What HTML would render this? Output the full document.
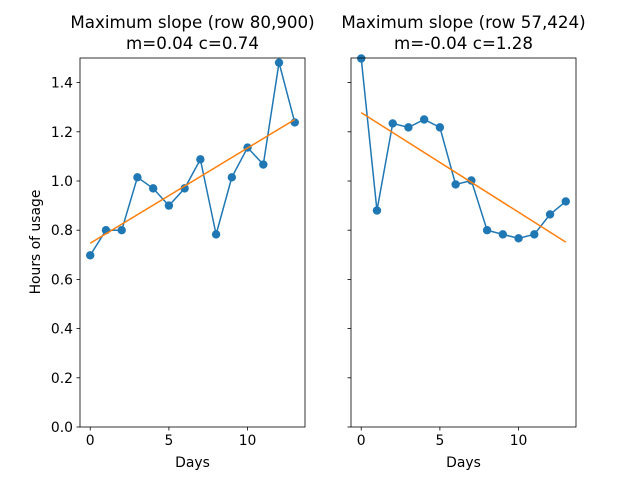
<!DOCTYPE html>
<html><head><meta charset="utf-8"><style>
body{margin:0;background:#fff}
svg text{font-family:"DejaVu Sans","Liberation Sans",sans-serif;fill:#000}
</style></head><body>
<svg id="chart" width="640" height="480" xmlns="http://www.w3.org/2000/svg"></svg>
<script>
const days=[0,1,2,3,4,5,6,7,8,9,10,11,12,13];
const leftValues=[0.698,0.80,0.80,1.015,0.97,0.90,0.97,1.088,0.783,1.015,1.136,1.067,1.481,1.238];
const rightValues=[1.498,0.88,1.234,1.218,1.25,1.218,0.986,1.002,0.80,0.783,0.767,0.783,0.864,0.917];
const leftFit=[0.0387,0.747];
const rightFit=[-0.0405,1.278];
const leftTitle=["Maximum slope (row 80,900)","m=0.04 c=0.74"];
const rightTitle=["Maximum slope (row 57,424)","m=-0.04 c=1.28"];
const yTicks=[0,0.2,0.4,0.6,0.8,1.0,1.2,1.4];
const xTicks=[0,5,10];
const NS="http://www.w3.org/2000/svg";
const svgEl=document.getElementById('chart');
const plotTop=58,plotBot=427,yMinV=0,yMaxV=1.5,xMinV=-0.65,xMaxV=13.65;
function mk(t,a,p){const e=document.createElementNS(NS,t);for(const k in a)e.setAttribute(k,a[k]);(p||svgEl).appendChild(e);return e;}
function panel(x0,x1,vals,fit,title,name,showY){
  const g=mk('g',{});
  
  
  const X=v=>x0+(v-xMinV)/(xMaxV-xMinV)*(x1-x0);
  const Y=v=>plotBot-(v-yMinV)/(yMaxV-yMinV)*(plotBot-plotTop);
  yTicks.forEach(t=>{
    mk('line',{x1:x0-3.5,x2:x0,y1:Y(t),y2:Y(t),stroke:'#000','stroke-width':0.8},g);
    if(showY){const tx=mk('text',{x:x0-7,y:Y(t)+5,'text-anchor':'end','font-size':13.9},g);tx.textContent=t.toFixed(1);
      
      }
  });
  xTicks.forEach(t=>{
    mk('line',{x1:X(t),x2:X(t),y1:plotBot,y2:plotBot+3.5,stroke:'#000','stroke-width':0.8},g);
    const tx=mk('text',{x:X(t),y:plotBot+18,'text-anchor':'middle','font-size':13.9},g);tx.textContent=t;
    
    
  });
  const pts=days.map((d,i)=>X(d)+','+Y(vals[i])).join(' ');
  const ln=mk('polyline',{points:pts,fill:'none',stroke:'#1f77b4','stroke-width':1.5},g);
  
  
  days.forEach((d,i)=>{const c=mk('circle',{cx:X(d),cy:Y(vals[i]),r:4.2,fill:'#1f77b4'},g);
    
    });
  const d0=days[0],d1=days[days.length-1];
  const fl=mk('line',{x1:X(d0),y1:Y(fit[1]+fit[0]*d0),x2:X(d1),y2:Y(fit[1]+fit[0]*d1),stroke:'#ff7f0e','stroke-width':1.5},g);
  
  
  const fr=mk('rect',{x:x0,y:plotTop,width:x1-x0,height:plotBot-plotTop,fill:'none',stroke:'#000','stroke-width':0.8},g);
  
  
  const cx=(x0+x1)/2;
  title.forEach((s,i)=>{const t=mk('text',{x:cx,y:28+i*21,'text-anchor':'middle','font-size':16.7},g);t.textContent=s;
    
    });
  const xl=mk('text',{x:cx,y:467,'text-anchor':'middle','font-size':13.9},g);xl.textContent='Days';
  
  
}
panel(80,305,leftValues,leftFit,leftTitle,'left-panel',true);
panel(351,576,rightValues,rightFit,rightTitle,'right-panel',false);
const yl=mk('text',{x:0,y:0,'text-anchor':'middle','font-size':13.9,transform:'translate(40,242) rotate(-90)'});
yl.textContent='Hours of usage';


</script>
</body></html>
